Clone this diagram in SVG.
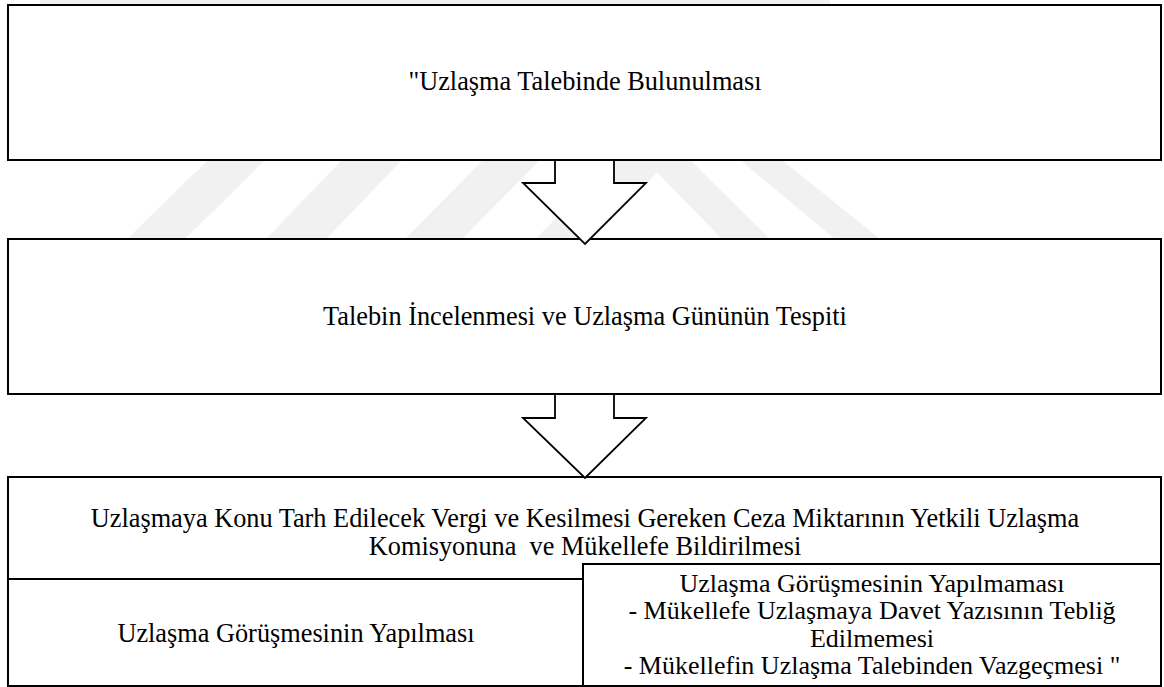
<svg xmlns="http://www.w3.org/2000/svg" width="1164" height="687" viewBox="0 0 1164 687">
<style>
.box{fill:#fff;stroke:#000;stroke-width:2}
.arr{fill:#fff;stroke:#000;stroke-width:1.8;stroke-linejoin:miter}
.wm{fill:#f1f1f1}
text{font-family:'Liberation Serif','Times New Roman',serif;font-size:26.3px;fill:#000;text-anchor:middle}
.s{font-size:26px}
</style>
<rect width="1164" height="687" fill="#fff"/>
<g id="watermark">
<rect class="wm" x="40" y="0" width="790" height="4"/>
<polygon class="wm" points="208,160 265,160 185,239 127,239"/>
<polygon class="wm" points="342,160 402,160 326,239 266,239"/>
<polygon class="wm" points="483,160 540,160 462,239 405,239"/>
<polygon class="wm" points="615,160 670,160 590,239 535,239"/>
<polygon class="wm" points="645,160 690,160 770,239 722,239"/>
<polygon class="wm" points="740,160 782,160 880,239 835,239"/>
</g>
<g id="n1">
<rect class="box" x="8" y="5" width="1153" height="155"/>
<text x="585" y="90">"Uzlaşma Talebinde Bulunulması</text>
</g>
<g id="n2">
<rect class="box" x="8" y="239" width="1153" height="155"/>
<text x="585" y="325">Talebin İncelenmesi ve Uzlaşma Gününün Tespiti</text>
</g>
<g id="n3">
<rect class="box" x="8" y="477" width="1153" height="209"/>
<text x="585" y="527">Uzlaşmaya Konu Tarh Edilecek Vergi ve Kesilmesi Gereken Ceza Miktarının Yetkili Uzlaşma</text>
<text x="585" y="555" xml:space="preserve">Komisyonuna  ve Mükellefe Bildirilmesi</text>
<line x1="8" y1="579" x2="583" y2="579" stroke="#000" stroke-width="2"/>
</g>
<g id="n4">
<text x="296" y="642">Uzlaşma Görüşmesinin Yapılması</text>
</g>
<g id="n5">
<rect class="box" x="583" y="564" width="578" height="122"/>
<text class="s" x="872" y="592">Uzlaşma Görüşmesinin Yapılmaması</text>
<text class="s" x="872" y="619.3">- Mükellefe Uzlaşmaya Davet Yazısının Tebliğ</text>
<text class="s" x="872" y="646.6">Edilmemesi</text>
<text class="s" x="872" y="673.9">- Mükellefin Uzlaşma Talebinden Vazgeçmesi "</text>
</g>
<g id="connectors">
<polygon class="arr" points="555,160 555,183 523,183 585,244 646,183 614,183 614,160"/>
<polygon class="arr" points="555,394 555,418 523,418 585,478 646,418 614,418 614,394"/>
</g>
</svg>
